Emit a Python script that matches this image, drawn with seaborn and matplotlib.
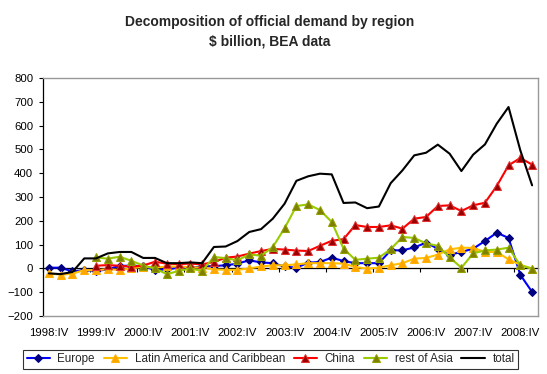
import numpy as np
import pandas as pd
import matplotlib
matplotlib.use("Agg")
import matplotlib.pyplot as plt
import seaborn as sns

# ---- categories (quarters 1998:IV .. 2009:I) ----
quarters = ["1998:IV"] + [f"{y}:{q}" for y in range(1999, 2009) for q in ["I", "II", "III", "IV"]] + ["2009:I"]
tick_labels = ["1998:IV", "1999:IV", "2000:IV", "2001:IV", "2002:IV", "2003:IV",
               "2004:IV", "2005:IV", "2006:IV", "2007:IV", "2008:IV"]

nan = np.nan
europe = [3, 3, -13, -7, -11, -4, 11, 11, 10, -7, -4, 3, 3, 8, 10, 13, 20, 34, 25, 22,
          8, 3, 24, 27, 45, 31, 22, 22, 22, 76, 76, 88, 108, 83, 57, 69, 83, 115, 150, 128, -27, -99]
latin_america = [-20, -27, -22, -7, -8, -3, -7, 0, 7, 3, 8, 8, 5, 3, -4, -6, -6, 0, 8, 13,
                 13, 17, 22, 22, 22, 20, 6, -1, 3, 13, 22, 41, 44, 58, 80, 87, 86, 69, 69, 38, 15, -1]
china = [nan, nan, nan, nan, 11, 14, 11, 7, 12, 28, 20, 18, 20, 17, 27, 45, 50, 62, 73, 82,
         79, 75, 73, 95, 116, 123, 182, 174, 174, 181, 167, 209, 216, 262, 265, 241, 265, 276, 346, 433, 464, 436]
rest_of_asia = [nan, nan, nan, nan, 46, 41, 49, 32, 12, 0, -24, -11, 0, -11, 48, 43, 34, 59, 53, 90,
                169, 262, 269, 245, 195, 83, 36, 41, 45, 81, 132, 128, 105, 95, 46, 3, 63, 76, 79, 87, 13, -1]
total = [-21, -24, -15, 42, 42, 63, 69, 69, 44, 44, 22, 22, 25, 22, 90, 92, 115, 153, 165, 209,
         272, 368, 387, 398, 395, 275, 277, 253, 260, 358, 412, 475, 486, 520, 482, 409, 478, 521, 608, 678, 496, 349]

series_names = ["Europe", "Latin America and Caribbean", "China", "rest of Asia", "total"]

sns.set_theme(style="white")
plt.rcParams['font.family'] = ['Liberation Sans', 'DejaVu Sans']

fig = plt.figure(figsize=(5.47, 3.74), dpi=100)
ax = fig.add_axes([43 / 547, 1 - 316 / 374, (538 - 43) / 547, (316 - 78) / 374])

x = np.arange(len(quarters))
styles = {
    "Europe": dict(color="#0000FF", marker="D", markersize=3.6, markerfacecolor="#000080", markeredgecolor="#000080"),
    "Latin America and Caribbean": dict(color="#FFC000", marker="^", markersize=5.2, markerfacecolor="#FFA500", markeredgecolor="#FFB000"),
    "China": dict(color="#FF0000", marker="^", markersize=5.2, markerfacecolor="#990000", markeredgecolor="#E03030"),
    "rest of Asia": dict(color="#99CC00", marker="^", markersize=5.2, markerfacecolor="#808000", markeredgecolor="#90A000"),
    "total": dict(color="#000000", marker=None),
}
data = {"Europe": europe, "Latin America and Caribbean": latin_america, "China": china,
        "rest of Asia": rest_of_asia, "total": total}

for name in series_names:
    df = pd.DataFrame({"q": x, "v": data[name]}).dropna()
    st = styles[name]
    sns.lineplot(data=df, x="q", y="v", ax=ax, estimator=None, sort=False,
                 linewidth=1.5, label=name, legend=False, **st)

ax.set_xlim(-0.5, len(quarters) - 0.5)
ax.set_ylim(-200, 800)
ax.set_yticks(np.arange(-200, 801, 100))
ax.set_xticks(np.arange(0, len(quarters), 4))
ax.set_xticklabels(tick_labels)
ax.set_xlabel("")
ax.set_ylabel("")
ax.tick_params(axis="x", length=0, pad=9, labelsize=8.2, colors="black")
ax.tick_params(axis="y", left=True, length=3, width=0.8, direction="out", pad=4,
               labelsize=8.2, colors="black")
for s in ["top", "right", "bottom"]:
    ax.spines[s].set_color("#999999")
    ax.spines[s].set_linewidth(1.0)
ax.spines["left"].set_color("black")
ax.spines["left"].set_linewidth(0.9)
ax.grid(False)

# zero axis with category-boundary tick marks
sec = ax.secondary_xaxis(0.2)
sec.set_xticks(np.arange(-0.5, len(quarters) - 1, 4))
sec.tick_params(axis="x", length=3, width=0.8, direction="out", labelbottom=False, colors="black")
sec.spines["bottom"].set_color("black")
sec.spines["bottom"].set_linewidth(0.9)

fig.text(270 / 547, 1 - 22 / 374, "Decomposition of official demand by region",
         ha="center", va="center", fontsize=10, fontweight="bold")
fig.text(270 / 547, 1 - 42 / 374, "\\$ billion, BEA data",
         ha="center", va="center", fontsize=10, fontweight="bold")

handles, labels = ax.get_legend_handles_labels()
leg = fig.legend(handles, labels, loc="center", bbox_to_anchor=(270.5 / 547, 1 - 359 / 374),
                 ncol=5, fontsize=8.4, frameon=True, fancybox=False, handlelength=2.0,
                 handletextpad=0.65, columnspacing=0.75, borderpad=0.3)
leg.get_frame().set_edgecolor("black")
leg.get_frame().set_linewidth(0.8)

fig.savefig("out.png", dpi=100)
